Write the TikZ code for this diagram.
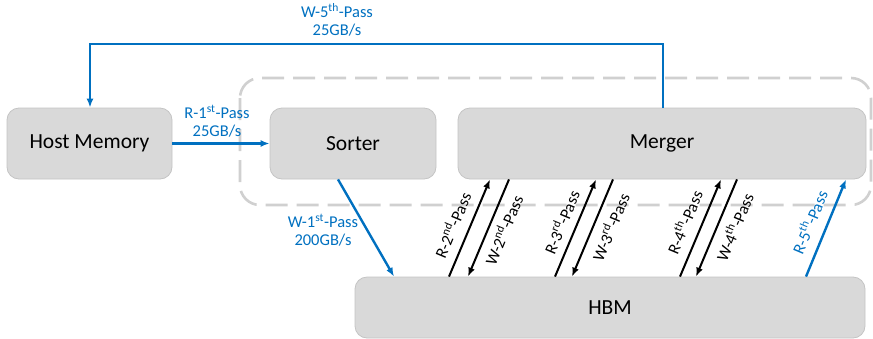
\documentclass[tikz,border=0pt]{standalone}
\usepackage{fontspec}
\setmainfont{Carlito}
\usetikzlibrary{arrows.meta,calc}
\definecolor{myblue}{HTML}{0070C0}
\definecolor{boxfill}{HTML}{D9D9D9}
\definecolor{boxline}{HTML}{C4C4C4}
\definecolor{dashgray}{HTML}{D0D0D0}
\tikzset{
  blk/.style={draw=boxline, line width=0.8pt, fill=boxfill, rounded corners=12pt, font=\fontsize{21.5}{25}\selectfont, inner sep=0pt},
  bluearrow/.style={draw=myblue, line width=2.4pt, -{Latex[length=9pt,width=7pt]}},
  blackarrow/.style={draw=black, line width=2pt, -{Latex[length=9pt,width=7pt]}},
  bluelbl/.style={text=myblue, font=\fontsize{16.5}{18}\selectfont, align=center, inner sep=1pt},
  rotlbl/.style={font=\fontsize{16.5}{18}\selectfont, rotate=67.3, inner sep=1pt},
  grp/.style={draw=dashgray, line width=2.6pt, dash pattern=on 22pt off 9pt, rounded corners=20pt}
}
\newcommand{\ord}[1]{\textsuperscript{#1}}
\begin{document}
\begin{tikzpicture}[x=1pt,y=-1pt]
\useasboundingbox (0,0) rectangle (873,338);
\draw[grp] (240,78) rectangle (871,205);
\node[blk, minimum width=165pt, minimum height=71pt] (host) at (89.5,143.5) {Host Memory};
\node[blk, minimum width=166pt, minimum height=71pt] (sorter) at (353,143.5) {Sorter};
\node[blk, minimum width=408pt, minimum height=71pt] (merger) at (662,143.5) {Merger};
\node[blk, minimum width=510pt, minimum height=61pt] (hbm) at (610,307.5) {HBM};
% W-5th pass
\coordinate (c5a) at (663,44);
\coordinate (c5b) at (90,44);
\draw[bluearrow] (663,0 |- merger.north) -- (c5a) -- (c5b) -- (90,0 |- host.north);
\node[bluelbl] (l5w) at (337,20) {W-5\ord{th}-Pass\\25GB/s};
% R-1st pass
\draw[bluearrow] (host.east) -- (sorter.west);
\node[bluelbl] (l1r) at (217,121) {R-1\ord{st}-Pass\\25GB/s};
% W-1st pass
\draw[bluearrow] (338,0 |- sorter.south) -- (394,0 |- hbm.north);
\node[bluelbl] (l1w) at (323,230) {W-1\ord{st}-Pass\\200GB/s};
% passes 2-4
\draw[blackarrow] (449,0 |- hbm.north) -- (490,0 |- merger.south);
\draw[blackarrow] (509,0 |- merger.south) -- (468,0 |- hbm.north);
\draw[blackarrow] (555,0 |- hbm.north) -- (596,0 |- merger.south);
\draw[blackarrow] (613,0 |- merger.south) -- (572,0 |- hbm.north);
\draw[blackarrow] (680,0 |- hbm.north) -- (721,0 |- merger.south);
\draw[blackarrow] (737,0 |- merger.south) -- (696,0 |- hbm.north);
\draw[bluearrow] (806,0 |- hbm.north) -- (846,0 |- merger.south);
\node[rotlbl] (l2r) at (452,225) {R-2\ord{nd}-Pass};
\node[rotlbl] (l2w) at (503,230) {W-2\ord{nd}-Pass};
\node[rotlbl] (l3r) at (561,222) {R-3\ord{rd}-Pass};
\node[rotlbl] (l3w) at (610,227) {W-3\ord{rd}-Pass};
\node[rotlbl] (l4r) at (684,222) {R-4\ord{th}-Pass};
\node[rotlbl] (l4w) at (734,227) {W-4\ord{th}-Pass};
\node[rotlbl, text=myblue] (l5r) at (809,222) {R-5\ord{th}-Pass};
\end{tikzpicture}
\end{document}
